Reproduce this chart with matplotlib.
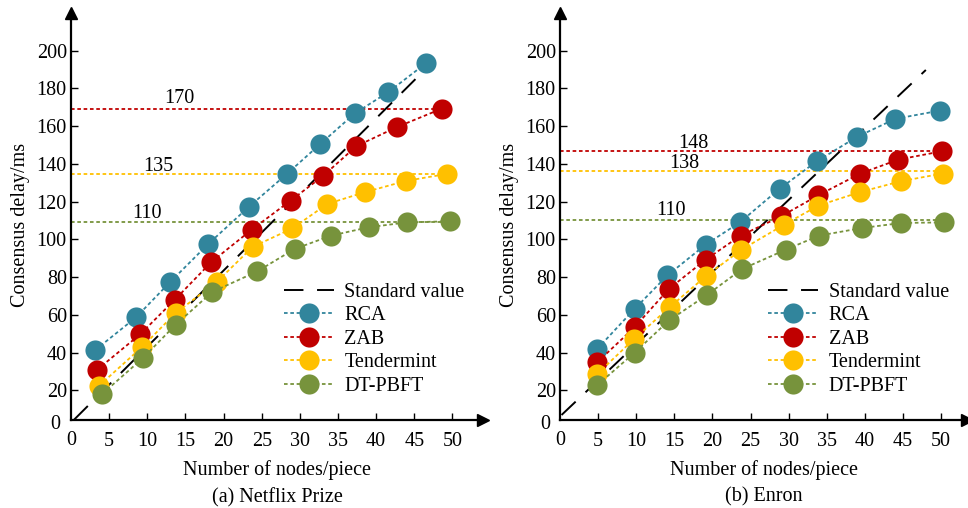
import matplotlib
matplotlib.use("Agg")
import matplotlib.pyplot as plt

plt.rcParams["font.family"] = ["Liberation Serif", "DejaVu Serif"]

SERIES = ["RCA", "ZAB", "Tendermint", "DT-PBFT"]
COLORS = {"RCA": "#31859C", "ZAB": "#C00000", "Tendermint": "#FFC000", "DT-PBFT": "#77933C"}

# (a) Netflix Prize
netflix_x = {
    "RCA": [3.2, 8.5, 13.0, 18.0, 23.3, 28.3, 32.6, 37.2, 41.6, 46.5],
    "ZAB": [3.4, 9.1, 13.6, 18.4, 23.7, 28.8, 33.0, 37.4, 42.7, 48.6],
    "Tendermint": [3.7, 9.3, 13.7, 19.1, 23.8, 29.0, 33.6, 38.5, 43.9, 49.3],
    "DT-PBFT": [4.1, 9.4, 13.7, 18.5, 24.4, 29.3, 34.1, 39.0, 44.0, 49.7],
}
netflix_y = {
    "RCA": [41.4, 58.6, 77.4, 97.6, 117.2, 134.7, 150.3, 166.8, 178.1, 193.3],
    "ZAB": [30.8, 49.8, 68.0, 88.0, 105.2, 120.6, 133.5, 149.4, 159.5, 169.3],
    "Tendermint": [22.5, 42.9, 60.9, 77.4, 96.0, 105.8, 118.8, 125.0, 131.0, 134.7],
    "DT-PBFT": [18.1, 37.0, 54.7, 72.1, 83.0, 94.9, 102.0, 106.4, 109.0, 109.6],
}
netflix_std_x = [0.4, 46.2]
netflix_std_y = [4.4, 189.2]
netflix_ref = {"ZAB": 169.0, "Tendermint": 134.4, "DT-PBFT": 109.4}
netflix_ref_text = {"ZAB": "170", "Tendermint": "135", "DT-PBFT": "110"}
netflix_ref_pos = {"ZAB": (14.2, 174.5), "Tendermint": (11.5, 138.7), "DT-PBFT": (9.9, 113.6)}

# (b) Enron
enron_x = {
    "RCA": [4.9, 9.8, 14.1, 19.1, 23.6, 28.8, 33.7, 39.0, 44.0, 49.9],
    "ZAB": [4.9, 9.8, 14.3, 19.1, 23.7, 29.0, 33.9, 39.4, 44.4, 50.1],
    "Tendermint": [4.9, 9.7, 14.4, 19.2, 23.8, 29.4, 33.9, 39.3, 44.7, 50.2],
    "DT-PBFT": [4.9, 9.8, 14.3, 19.3, 23.9, 29.6, 34.0, 39.6, 44.8, 50.4],
}
enron_y = {
    "RCA": [42.0, 63.2, 80.9, 97.2, 109.0, 126.8, 141.4, 154.4, 163.9, 168.3],
    "ZAB": [34.9, 53.5, 73.8, 89.2, 102.0, 112.2, 123.4, 134.9, 142.3, 146.7],
    "Tendermint": [28.7, 47.1, 64.1, 80.7, 94.5, 107.8, 117.9, 125.0, 130.8, 134.9],
    "DT-PBFT": [22.8, 40.0, 57.0, 70.6, 84.3, 94.5, 102.0, 106.0, 108.7, 109.0],
}
enron_std_x = [0.2, 48.0]
enron_std_y = [6.9, 189.8]
enron_ref = {"ZAB": 147.1, "Tendermint": 136.0, "DT-PBFT": 110.5}
enron_ref_text = {"ZAB": "148", "Tendermint": "138", "DT-PBFT": "110"}
enron_ref_pos = {"ZAB": (17.5, 150.8), "Tendermint": (16.3, 140.0), "DT-PBFT": (14.5, 115.4)}

X_TICKS = [5, 10, 15, 20, 25, 30, 35, 40, 45, 50]
Y_TICKS = [20, 40, 60, 80, 100, 120, 140, 160, 180, 200]
FS = 14.5


def draw_panel(ax, xs, ys, std_x, std_y, ref, ref_text, ref_pos, xmax, title):
    ax.set_xlim(0, xmax)
    ax.set_ylim(4.25, 220)
    for s in ["top", "right"]:
        ax.spines[s].set_visible(False)
    for s in ["left", "bottom"]:
        ax.spines[s].set_linewidth(1.6)
    # arrow heads on the axes
    ax.plot(1, 0, ">k", ms=8, transform=ax.transAxes, clip_on=False)
    ax.plot(0, 1, "^k", ms=8, transform=ax.transAxes, clip_on=False)

    # reference lines from the y-axis to the last point
    for name in ["ZAB", "Tendermint", "DT-PBFT"]:
        ax.plot([0, xs[name][-1]], [ref[name], ref[name]], color=COLORS[name],
                ls=(0, (2, 1.5)), lw=1.3, zorder=1)
        ax.text(*ref_pos[name], ref_text[name], fontsize=FS, ha="center", va="center")

    ax.plot(std_x, std_y, color="black", ls=(0, (10, 7)), lw=1.4, label="Standard value", zorder=2)
    for name in SERIES:
        ax.plot(xs[name], ys[name], color=COLORS[name], ls=(0, (2, 1.5)), lw=1.3,
                marker="o", ms=14.5, mec="none", label=name, zorder=3)

    ax.set_xticks(X_TICKS)
    ax.set_yticks(Y_TICKS)
    ax.tick_params(direction="in", length=5, width=1, labelsize=FS)
    ax.tick_params(axis="x", pad=9)
    ax.tick_params(axis="y", pad=3)
    ax.text(0, -0.0265, "0", transform=ax.transAxes, fontsize=FS, ha="center", va="top")
    ax.text(-0.025, -0.01, "0", transform=ax.transAxes, fontsize=FS, ha="right", va="center")

    ax.set_xlabel("Number of nodes/piece", fontsize=FS, labelpad=6)
    ax.set_ylabel("Consensus delay/ms", fontsize=FS)
    ax.yaxis.set_label_coords(-0.10, 0.48)
    ax.text(0.5, -0.19, title, transform=ax.transAxes, fontsize=FS, ha="center", va="center")

    ax.legend(loc="lower right", bbox_to_anchor=(0.985, 0.03), frameon=False, fontsize=FS,
              handlelength=2.5, handletextpad=0.5, labelspacing=0.22, borderaxespad=0.2)


fig = plt.figure(figsize=(9.68, 5.08), dpi=100)
ax1 = fig.add_axes([71 / 968, 88 / 508, 412 / 968, 407 / 508])
ax2 = fig.add_axes([560 / 968, 88 / 508, 407 / 968, 407 / 508])

draw_panel(ax1, netflix_x, netflix_y, netflix_std_x, netflix_std_y,
           netflix_ref, netflix_ref_text, netflix_ref_pos, 54, "(a) Netflix Prize")
draw_panel(ax2, enron_x, enron_y, enron_std_x, enron_std_y,
           enron_ref, enron_ref_text, enron_ref_pos, 53.4, "(b) Enron")

fig.savefig("out.png", dpi=100)
